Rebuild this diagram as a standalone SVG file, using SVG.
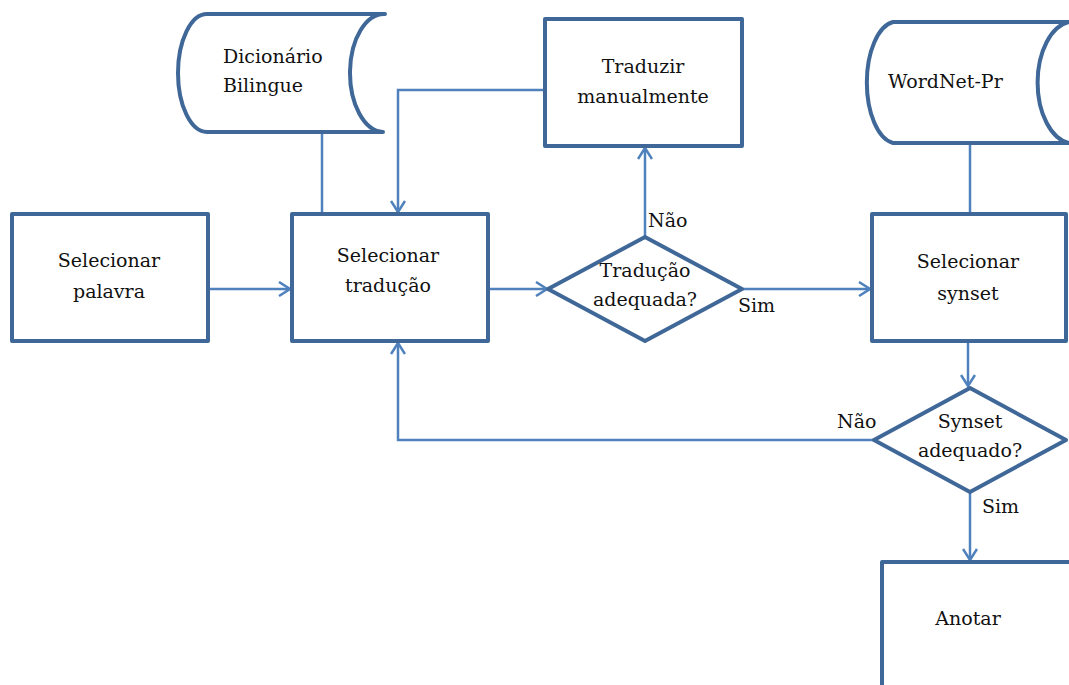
<svg xmlns="http://www.w3.org/2000/svg" width="1069" height="685" viewBox="0 0 1069 685">
<style>
.node{fill:#fff;stroke:#3F6797;stroke-width:4;stroke-linejoin:round}
.conn{fill:none;stroke:#4F81BD;stroke-width:2.5}
text{font-family:"DejaVu Serif","Liberation Serif",serif;font-size:19px;fill:#111}
.c{text-anchor:middle}
</style>
<defs>
<marker id="arr" markerUnits="userSpaceOnUse" markerWidth="14" markerHeight="16" refX="12" refY="8" orient="auto">
<path d="M1,1 L12,8 L1,15" fill="none" stroke="#4F81BD" stroke-width="2.5"/>
</marker>
</defs>
<rect width="1069" height="685" fill="#fff"/>
<g id="connectors">
<path class="conn" d="M208,289 H290" marker-end="url(#arr)"/>
<path class="conn" d="M488,289 H547" marker-end="url(#arr)"/>
<path class="conn" d="M645,237 V148" marker-end="url(#arr)"/>
<path class="conn" d="M545,90 H398 V212" marker-end="url(#arr)"/>
<path class="conn" d="M322,132 V214"/>
<path class="conn" d="M742,289 H870" marker-end="url(#arr)"/>
<path class="conn" d="M970,143 V214"/>
<path class="conn" d="M968,341 V386" marker-end="url(#arr)"/>
<path class="conn" d="M874,440 H398 V343" marker-end="url(#arr)"/>
<path class="conn" d="M970,492 V560" marker-end="url(#arr)"/>
</g>
<g id="dicionario">
<path class="node" d="M207,14 H385 A34,59 0 0 0 383,132 H207 A29,59 0 0 1 207,14 Z"/>
<text x="223" y="63">Dicionário</text>
<text x="223" y="92">Bilingue</text>
</g>
<g id="wordnet">
<path class="node" d="M893,22 H1069 A36,61 0 0 0 1069,143 H893 A30,61 0 0 1 893,22 Z"/>
<text x="888" y="88">WordNet-Pr</text>
</g>
<g id="traduzir">
<rect class="node" x="545" y="19" width="197" height="127"/>
<text class="c" x="643" y="73">Traduzir</text>
<text class="c" x="643" y="103">manualmente</text>
</g>
<g id="sel_palavra">
<rect class="node" x="12" y="214" width="196" height="127"/>
<text class="c" x="109" y="267">Selecionar</text>
<text class="c" x="109" y="298">palavra</text>
</g>
<g id="sel_traducao">
<rect class="node" x="292" y="214" width="196" height="127"/>
<text class="c" x="388" y="262">Selecionar</text>
<text class="c" x="388" y="292">tradução</text>
</g>
<g id="dec_traducao">
<path class="node" d="M645,237 L742,289 L645,341 L548,289 Z"/>
<text class="c" x="645" y="277">Tradução</text>
<text class="c" x="645" y="306">adequada?</text>
</g>
<g id="sel_synset">
<rect class="node" x="872" y="214" width="194" height="127"/>
<text class="c" x="968" y="268">Selecionar</text>
<text class="c" x="968" y="300">synset</text>
</g>
<g id="dec_synset">
<path class="node" d="M970,388 L1066,440 L970,492 L874,440 Z"/>
<text class="c" x="970" y="428">Synset</text>
<text class="c" x="970" y="457">adequado?</text>
</g>
<g id="anotar">
<rect class="node" x="882" y="562" width="260" height="200"/>
<text class="c" x="968" y="625">Anotar</text>
</g>
<g id="labels">
<text x="648" y="227">Não</text>
<text x="738" y="312">Sim</text>
<text x="837" y="428">Não</text>
<text x="982" y="513">Sim</text>
</g>
</svg>
